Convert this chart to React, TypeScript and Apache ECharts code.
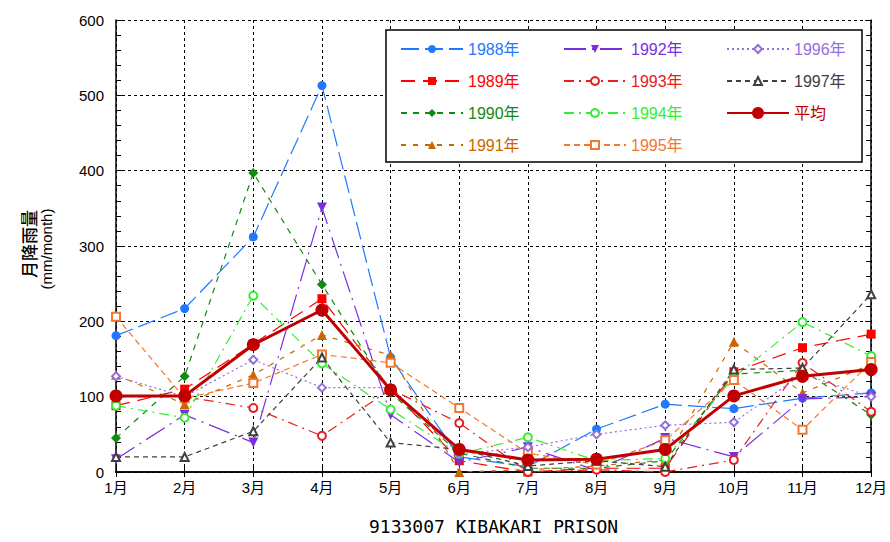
import React, { useEffect, useRef } from "react";
import * as echarts from "echarts";

const months = ["1月", "2月", "3月", "4月", "5月", "6月", "7月", "8月", "9月", "10月", "11月", "12月"];

const y1988 = [181, 217, 312, 513, 152, 20, 7, 57, 90, 84, 98, 105];
const y1989 = [88, 110, 170, 230, 110, 15, 0, 5, 5, 133, 165, 183];
const y1990 = [45, 127, 397, 249, 105, 25, 5, 5, 15, 130, 135, 76];
const y1991 = [129, 90, 129, 182, 155, 0, 3, 8, 16, 173, 105, 143];
const y1992 = [17, 76, 39, 351, 76, 13, 33, 2, 45, 20, 97, 100];
const y1993 = [100, 100, 85, 48, 110, 65, 0, 3, 0, 16, 145, 80];
const y1994 = [88, 72, 234, 144, 83, 24, 46, 15, 18, 126, 199, 154];
const y1995 = [206, 98, 118, 156, 145, 85, 25, 10, 42, 122, 56, 146];
const y1996 = [127, 100, 149, 112, 112, 24, 33, 50, 62, 66, 130, 100];
const y1997 = [20, 20, 54, 152, 39, 30, 8, 15, 7, 136, 138, 236];
const avg = [101, 101, 169, 215, 109, 30, 16, 17, 30, 101, 127, 136];

const yTicks = [0, 600, 100];

const FONT = "'Liberation Sans', Arial, 'Noto Sans CJK JP', sans-serif";

type Spec = {
  name: string;
  data: number[];
  color: string;
  symbol: string;
  size: number;
  dash: any;
  rotate?: number;
  width?: number;
};

const specs: Spec[] = [
  { name: "1988年", data: y1988, color: "#1f78ff", symbol: "circle", size: 9, dash: [18, 6] },
  { name: "1989年", data: y1989, color: "#ff0000", symbol: "rect", size: 9, dash: [14, 8] },
  { name: "1990年", data: y1990, color: "#108a10", symbol: "diamond", size: 10, dash: [6, 6] },
  { name: "1991年", data: y1991, color: "#cc6600", symbol: "triangle", size: 10, dash: [5, 7] },
  { name: "1992年", data: y1992, color: "#7a2ee0", symbol: "triangle", size: 10, dash: [22, 6, 2, 6], rotate: 180 },
  { name: "1993年", data: y1993, color: "#e62020", symbol: "emptyCircle", size: 8, dash: [10, 5, 2, 5] },
  { name: "1994年", data: y1994, color: "#33ee33", symbol: "emptyCircle", size: 8, dash: [10, 5, 2, 5] },
  { name: "1995年", data: y1995, color: "#f07830", symbol: "emptyRect", size: 8, dash: [6, 4] },
  { name: "1996年", data: y1996, color: "#9370db", symbol: "emptyDiamond", size: 8, dash: [2, 3] },
  { name: "1997年", data: y1997, color: "#404040", symbol: "emptyTriangle", size: 8, dash: [5, 4] },
  { name: "平均", data: avg, color: "#c00000", symbol: "circle", size: 13, dash: "solid", width: 3 },
];

export default function App() {
  const ref = useRef<HTMLDivElement>(null);
  useEffect(() => {
    if (!ref.current) return;
    const chart = echarts.init(ref.current, null, { renderer: "svg" });

    const series = specs.map((s) => ({
      name: s.name,
      type: "line",
      data: s.data,
      xAxisIndex: 0,
      yAxisIndex: 0,
      symbol: s.symbol,
      symbolSize: s.size,
      symbolRotate: s.rotate || 0,
      showAllSymbol: true,
      lineStyle: { color: s.color, width: s.width || 1.2, type: s.dash },
      itemStyle: { color: s.color, borderColor: s.color, borderWidth: s.symbol.indexOf("empty") === 0 ? 1.2 : 0 },
      emphasis: { disabled: true },
    }));

    const legendItem = (n: string) => {
      const s = specs.find((x) => x.name === n)!;
      return { name: n, textStyle: { color: s.color } };
    };
    const legendBase = {
      orient: "vertical",
      top: 36,
      itemWidth: 62,
      itemHeight: 10,
      itemGap: 16,
      selectedMode: false,
      z: 5,
      textStyle: { fontSize: 16, lineHeight: 16, fontFamily: FONT },
    };

    const axisLineStyle = { color: "#000", width: 1.5 };
    const splitStyle = { color: "#000", width: 1, type: [3, 3] };

    chart.setOption({
      animation: false,
      grid: { left: 116, right: 15, top: 20, bottom: 70 },
      xAxis: [
        {
          type: "category",
          data: months,
          boundaryGap: false,
          axisLine: { lineStyle: axisLineStyle },
          axisTick: { show: true, inside: true, length: 5, lineStyle: { color: "#000" } },
          axisLabel: { color: "#000", fontSize: 15, margin: 8, fontFamily: FONT },
          splitLine: { show: true, lineStyle: splitStyle },
          name: "9133007 KIBAKARI PRISON",
          nameLocation: "middle",
          nameGap: 45,
          nameTextStyle: { color: "#000", fontSize: 18, fontFamily: "'DejaVu Sans Mono', 'Liberation Mono', monospace" },
        },
        {
          type: "category",
          data: months,
          position: "top",
          boundaryGap: false,
          axisLine: { lineStyle: axisLineStyle },
          axisTick: { show: true, inside: true, length: 5, lineStyle: { color: "#000" } },
          axisLabel: { show: false },
          splitLine: { show: false },
        },
      ],
      yAxis: [
        {
          type: "value",
          min: yTicks[0],
          max: yTicks[1],
          interval: yTicks[2],
          axisLine: { show: true, lineStyle: axisLineStyle },
          axisTick: { show: true, inside: true, length: 6, lineStyle: { color: "#000" } },
          minorTick: { show: true, splitNumber: 5, length: 5, lineStyle: { color: "#000" } },
          axisLabel: { color: "#000", fontSize: 15, margin: 12, fontFamily: FONT },
          splitLine: { show: true, lineStyle: splitStyle },
        },
        {
          type: "value",
          position: "right",
          min: yTicks[0],
          max: yTicks[1],
          interval: yTicks[2],
          axisLine: { show: true, lineStyle: axisLineStyle },
          axisTick: { show: true, inside: true, length: 6, lineStyle: { color: "#000" } },
          minorTick: { show: true, splitNumber: 5, length: 5, lineStyle: { color: "#000" } },
          axisLabel: { show: false },
          splitLine: { show: false },
        },
      ],
      legend: [
        { ...legendBase, left: 395, data: ["1988年", "1989年", "1990年", "1991年"].map(legendItem) },
        { ...legendBase, left: 558, data: ["1992年", "1993年", "1994年", "1995年"].map(legendItem) },
        { ...legendBase, left: 721, data: ["1996年", "1997年"].map(legendItem) },
        { ...legendBase, left: 721, top: 100, itemHeight: 15, data: ["平均"].map(legendItem) },
      ],
      graphic: [
        {
          type: "rect",
          z: 3,
          shape: { x: 386, y: 30, width: 476, height: 132 },
          style: { fill: "#fff", stroke: "#000", lineWidth: 1.5 },
        },
        {
          type: "text",
          x: 28,
          y: 244,
          rotation: Math.PI / 2,
          style: {
            text: "月降雨量",
            fill: "#000",
            font: "500 17px 'Noto Sans CJK JP', sans-serif",
            align: "center",
            verticalAlign: "middle",
          },
        },
        {
          type: "text",
          x: 46,
          y: 249,
          rotation: Math.PI / 2,
          style: {
            text: "(mm/month)",
            fill: "#000",
            font: "15px 'Liberation Sans', Arial, sans-serif",
            align: "center",
            verticalAlign: "middle",
          },
        },
      ],
      series,
    });
    return () => chart.dispose();
  }, []);
  return <div ref={ref} style={{ width: 890, height: 542, position: "absolute", left: 0, top: 0 }} />;
}
